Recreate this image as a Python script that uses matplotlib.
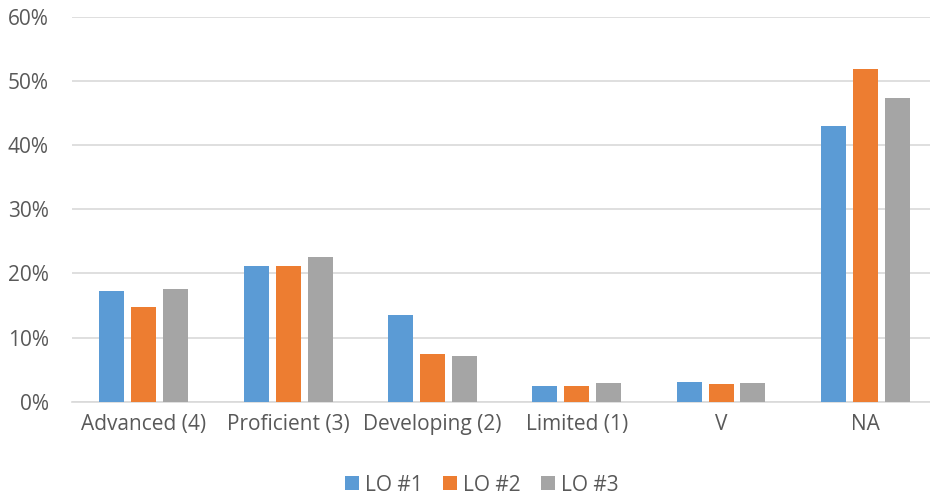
import matplotlib
matplotlib.use("Agg")
import matplotlib.pyplot as plt
import numpy as np
from matplotlib.ticker import FuncFormatter

categories = ["Advanced (4)", "Proficient (3)", "Developing (2)", "Limited (1)", "V", "NA"]
series_names = ["LO #1", "LO #2", "LO #3"]
lo1 = [17.3, 21.1, 13.5, 2.4, 3.1, 42.9]
lo2 = [14.8, 21.1, 7.5, 2.4, 2.7, 51.8]
lo3 = [17.5, 22.6, 7.1, 2.9, 2.9, 47.4]
colors = ["#5B9BD5", "#ED7D31", "#A5A5A5"]

plt.rcParams["font.family"] = ["Open Sans", "DejaVu Sans"]

fig = plt.figure(figsize=(9.3, 4.98), dpi=100)
ax = fig.add_axes([0.0771, 0.1934, 0.931, 0.7731])

x = np.arange(len(categories))
slot = 0.221
width = 0.173
for i, (vals, name, c) in enumerate(zip([lo1, lo2, lo3], series_names, colors)):
    ax.bar(x + (i - 1) * slot, vals, width=width, color=c, label=name, zorder=3)

ax.set_xlim(-0.5, len(categories) - 0.5)
ax.set_ylim(0, 60)
ax.set_yticks(np.arange(0, 61, 10))
ax.yaxis.set_major_formatter(FuncFormatter(lambda v, p: f"{int(v)}%"))
ax.set_xticks(x)
ax.set_xticklabels(categories)
ax.grid(axis="y", color="#D9D9D9", linewidth=1.2, zorder=0)
for s in ["top", "right", "left"]:
    ax.spines[s].set_visible(False)
ax.spines["bottom"].set_color("#D9D9D9")
ax.spines["bottom"].set_linewidth(1.2)
ax.tick_params(axis="both", length=0, labelsize=15, colors="#595959")
ax.tick_params(axis="x", pad=9)
ax.tick_params(axis="y", pad=16.5)

ax.legend(loc="center", bbox_to_anchor=(0.518, 0.026), bbox_transform=fig.transFigure,
          ncol=3, frameon=False, fontsize=15, labelcolor="#595959",
          handlelength=0.67, handleheight=0.67, handletextpad=0.27, columnspacing=1.0)

fig.savefig("out.png", dpi=100)
